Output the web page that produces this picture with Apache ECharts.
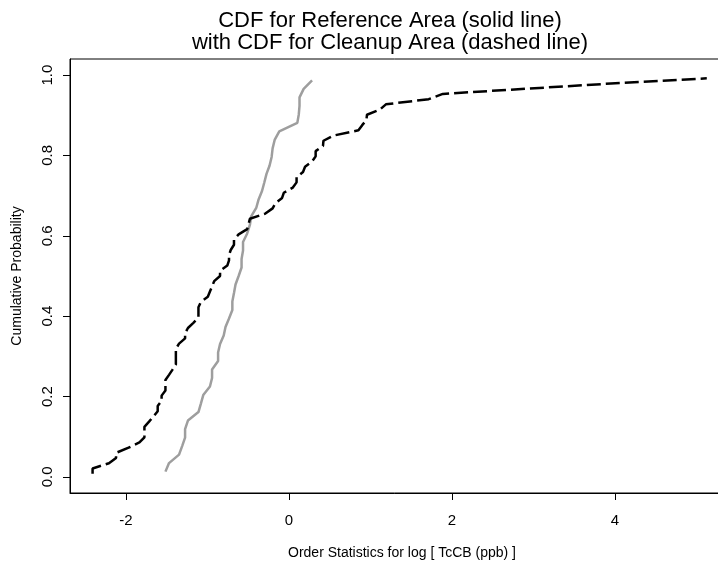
<!DOCTYPE html>
<html>
<head>
<meta charset="utf-8">
<script src="https://cdn.jsdelivr.net/npm/echarts@6/dist/echarts.min.js"></script>
<style>
  html, body { margin: 0; padding: 0; background: #fff; }
  #main { width: 718px; height: 565px; }
</style>
</head>
<body>
<div id="main"></div>
<script>
// log TcCB (ppb), reference area, ordered
var refLog = [-1.514, -1.470, -1.347, -1.309, -1.273, -1.273, -1.238, -1.109, -1.079, -1.050,
  -0.968, -0.942, -0.942, -0.868, -0.868, -0.844, -0.799, -0.777, -0.734, -0.693,
  -0.693, -0.673, -0.654, -0.616, -0.580, -0.580, -0.562, -0.562, -0.511, -0.478,
  -0.462, -0.400, -0.371, -0.329, -0.301, -0.274, -0.236, -0.211, -0.199, -0.174,
  -0.117, 0.104, 0.122, 0.131, 0.131, 0.182, 0.285];
var refProb = [0.0132, 0.0344, 0.0556, 0.0767, 0.0979, 0.1190, 0.1402, 0.1614, 0.1825, 0.2037,
  0.2249, 0.2460, 0.2672, 0.2884, 0.3095, 0.3307, 0.3519, 0.3730, 0.3942, 0.4153,
  0.4365, 0.4577, 0.4788, 0.5000, 0.5212, 0.5423, 0.5635, 0.5847, 0.6058, 0.6270,
  0.6481, 0.6693, 0.6905, 0.7116, 0.7328, 0.7540, 0.7751, 0.7963, 0.8175, 0.8386,
  0.8598, 0.8810, 0.9021, 0.9233, 0.9444, 0.9656, 0.9868];

// log TcCB (ppb), cleanup area, ordered
var cleanLog = [-2.408, -2.408, -2.207, -2.120, -2.120, -1.966, -1.833, -1.772, -1.772, -1.772,
  -1.715, -1.661, -1.609, -1.609, -1.561, -1.561, -1.514, -1.514, -1.514, -1.470,
  -1.427, -1.386, -1.386, -1.386, -1.386, -1.347, -1.273, -1.273, -1.238, -1.171,
  -1.109, -1.109, -1.109, -1.079, -0.994, -0.968, -0.942, -0.916, -0.844, -0.844,
  -0.755, -0.734, -0.734, -0.713, -0.673, -0.673, -0.616, -0.511, -0.494, -0.478,
  -0.288, -0.199, -0.163, -0.083, -0.062, 0.049, 0.095, 0.095, 0.174, 0.199,
  0.285, 0.329, 0.329, 0.419, 0.425, 0.548, 0.854, 0.900, 0.952, 0.959,
  1.118, 1.191, 1.716, 1.889, 2.912, 3.951, 5.128];
var cleanProb = [0.0081, 0.0210, 0.0340, 0.0469, 0.0599, 0.0728, 0.0858, 0.0987, 0.1117, 0.1246,
  0.1375, 0.1505, 0.1634, 0.1764, 0.1893, 0.2023, 0.2152, 0.2282, 0.2411, 0.2540,
  0.2670, 0.2799, 0.2929, 0.3058, 0.3188, 0.3317, 0.3447, 0.3576, 0.3706, 0.3835,
  0.3964, 0.4094, 0.4223, 0.4353, 0.4482, 0.4612, 0.4741, 0.4871, 0.5000, 0.5129,
  0.5259, 0.5388, 0.5518, 0.5647, 0.5777, 0.5906, 0.6036, 0.6165, 0.6294, 0.6424,
  0.6553, 0.6683, 0.6812, 0.6942, 0.7071, 0.7201, 0.7330, 0.7460, 0.7589, 0.7718,
  0.7848, 0.7977, 0.8107, 0.8236, 0.8366, 0.8495, 0.8625, 0.8754, 0.8883, 0.9013,
  0.9142, 0.9272, 0.9401, 0.9531, 0.9660, 0.9790, 0.9919];

var xTicks = [-2, 0, 2, 4];
var yTicks = [0, 0.2, 0.4, 0.6, 0.8, 1.0];

var font = "'Liberation Sans', Arial, Helvetica, sans-serif";
var chart = echarts.init(document.getElementById('main'));

function pairs(xs, ys) {
  return xs.map(function (x, i) { return [x, ys[i]]; });
}

var option = {
  animation: false,
  backgroundColor: '#fff',
  title: {
    text: 'CDF for Reference Area (solid line)\nwith CDF for Cleanup Area (dashed line)',
    left: 385,
    top: 5,
    textAlign: 'center',
    textStyle: {
      fontFamily: font,
      fontSize: 22,
      fontWeight: 'normal',
      color: '#000',
      lineHeight: 22
    }
  },
  grid: {
    left: 70,
    top: 59,
    width: 664,
    height: 434,
    show: true,
    borderColor: '#000',
    borderWidth: 1,
    containLabel: false,
    outerBoundsMode: 'none'
  },
  xAxis: {
    type: 'value',
    min: -2.685,
    max: 5.462,
    name: 'Order Statistics for log [ TcCB (ppb) ]',
    nameLocation: 'middle',
    nameGap: 53,
    nameTextStyle: { fontFamily: font, fontSize: 14, color: '#000' },
    axisLine: { show: true, onZero: false, lineStyle: { color: '#000', width: 1 } },
    axisTick: { show: true, length: 7, customValues: xTicks, lineStyle: { color: '#000' } },
    axisLabel: {
      customValues: xTicks,
      margin: 20,
      fontFamily: font,
      fontSize: 15,
      color: '#000'
    },
    splitLine: { show: false }
  },
  yAxis: {
    type: 'value',
    min: -0.04,
    max: 1.04,
    name: 'Cumulative Probability',
    nameLocation: 'middle',
    nameGap: 46,
    nameTextStyle: { fontFamily: font, fontSize: 14, color: '#000' },
    axisLine: { show: true, onZero: false, lineStyle: { color: '#000', width: 1 } },
    axisTick: { show: true, length: 7, customValues: yTicks, lineStyle: { color: '#000' } },
    axisLabel: {
      customValues: yTicks,
      rotate: 90,
      margin: 15,
      fontFamily: font,
      fontSize: 15,
      color: '#000',
      formatter: function (v) { return v.toFixed(1); }
    },
    splitLine: { show: false }
  },
  series: [
    {
      name: 'Reference Area',
      type: 'line',
      data: pairs(refLog, refProb),
      showSymbol: false,
      lineStyle: { color: '#9e9e9e', width: 2.5 }
    },
    {
      name: 'Cleanup Area',
      type: 'line',
      data: pairs(cleanLog, cleanProb),
      showSymbol: false,
      lineStyle: { color: '#000', width: 2.5, type: [14, 5] }
    }
  ]
};

chart.setOption(option);
</script>
</body>
</html>
